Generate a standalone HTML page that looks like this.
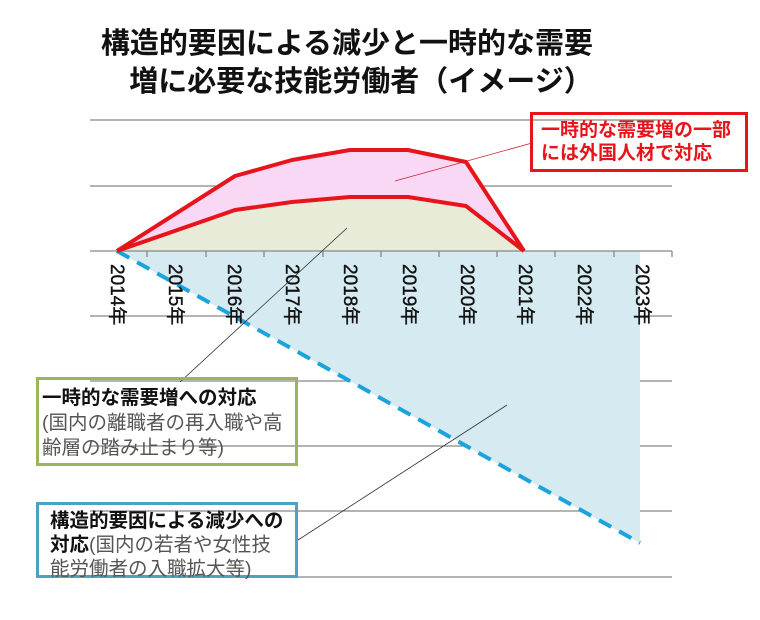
<!DOCTYPE html>
<html><head><meta charset="utf-8"><style>
html,body{margin:0;padding:0;background:#fff;}
body{width:760px;height:620px;position:relative;overflow:hidden;font-family:"Liberation Sans","Noto Sans CJK JP",sans-serif;}
.t{position:absolute;left:0;width:694px;text-align:center;font-weight:bold;font-size:29px;color:#111;}
.box{position:absolute;box-sizing:border-box;}
</style></head><body>
<div class="t" style="top:20px;">構造的要因による減少と一時的な需要</div>
<div class="t" style="top:58px;left:14px;">増に必要な技能労働者（イメージ）</div>
<svg width="760" height="620" style="position:absolute;left:0;top:0">
<g stroke="#888" stroke-width="1.3">
<line x1="90" y1="120" x2="672" y2="120"/><line x1="90" y1="186" x2="672" y2="186"/>
<line x1="90" y1="316" x2="672" y2="316"/><line x1="90" y1="381" x2="672" y2="381"/>
<line x1="90" y1="446" x2="672" y2="446"/><line x1="90" y1="511" x2="672" y2="511"/>
<line x1="90" y1="577" x2="672" y2="577"/>
</g>
<polygon points="117,251 640,251 640,543" fill="#d6eaf2"/>
<polygon points="117,251 235,176 292,160 350,150 408,150 466,162 524,251" fill="#f8d8f4"/>
<polygon points="117,251 235,210 292,202 350,197 408,197 466,206 524,251" fill="#e8ebd8"/>
<line x1="90" y1="251" x2="672" y2="251" stroke="#888" stroke-width="1.3"/>
<g stroke="#888" stroke-width="1.3">
<line x1="147" y1="251" x2="147" y2="257"/><line x1="206" y1="251" x2="206" y2="257"/><line x1="264" y1="251" x2="264" y2="257"/><line x1="323" y1="251" x2="323" y2="257"/><line x1="381" y1="251" x2="381" y2="257"/><line x1="439" y1="251" x2="439" y2="257"/><line x1="497" y1="251" x2="497" y2="257"/><line x1="555" y1="251" x2="555" y2="257"/><line x1="614" y1="251" x2="614" y2="257"/><line x1="672" y1="251" x2="672" y2="257"/>
</g>
<line x1="117" y1="251" x2="640" y2="543" stroke="#1ca3dd" stroke-width="4" stroke-dasharray="14,9"/>
<polyline points="117,251 235,176 292,160 350,150 408,150 466,162 524,251" fill="none" stroke="#e8141c" stroke-width="4" stroke-linejoin="round"/>
<polyline points="117,251 235,210 292,202 350,197 408,197 466,206 524,251" fill="none" stroke="#e8141c" stroke-width="4" stroke-linejoin="round"/>
<g font-size="19" fill="#111" stroke="#111" stroke-width="0.4" font-family="Liberation Sans,Noto Sans CJK JP,sans-serif">
<text transform="translate(111,264) rotate(90)">2014年</text>
<text transform="translate(169,264) rotate(90)">2015年</text>
<text transform="translate(228,264) rotate(90)">2016年</text>
<text transform="translate(286,264) rotate(90)">2017年</text>
<text transform="translate(344,264) rotate(90)">2018年</text>
<text transform="translate(403,264) rotate(90)">2019年</text>
<text transform="translate(461,264) rotate(90)">2020年</text>
<text transform="translate(519,264) rotate(90)">2021年</text>
<text transform="translate(578,264) rotate(90)">2022年</text>
<text transform="translate(636,264) rotate(90)">2023年</text>
</g>
<line x1="395" y1="181" x2="532" y2="143" stroke="#c23" stroke-width="0.8"/>
<line x1="347" y1="228" x2="180" y2="382" stroke="#333" stroke-width="0.8"/>
<line x1="507" y1="405" x2="298" y2="540" stroke="#333" stroke-width="0.8"/>
</svg>
<div class="box" style="left:530px;top:112px;width:218px;height:60px;border:3px solid #e8141c;color:#e8141c;font-weight:bold;font-size:19px;line-height:23px;padding:4px 0 0 8px;white-space:nowrap;">一時的な需要増の一部<br>には外国人材で対応</div>
<div class="box" style="left:36px;top:377px;width:262px;height:89px;border:3px solid #9cb55a;font-size:19.5px;line-height:25px;padding:6px 0 0 3px;color:#555;white-space:nowrap;"><b style="color:#111">一時的な需要増への対応</b><br>(国内の離職者の再入職や高<br>齢層の踏み止まり等)</div>
<div class="box" style="left:36px;top:502px;width:262px;height:76px;border:3px solid #4aa3c0;font-size:19.5px;line-height:24px;padding:4px 0 0 11px;color:#555;white-space:nowrap;"><b style="color:#111">構造的要因による減少への<br>対応</b>(国内の若者や女性技<br>能労働者の入職拡大等)</div>
</body></html>
